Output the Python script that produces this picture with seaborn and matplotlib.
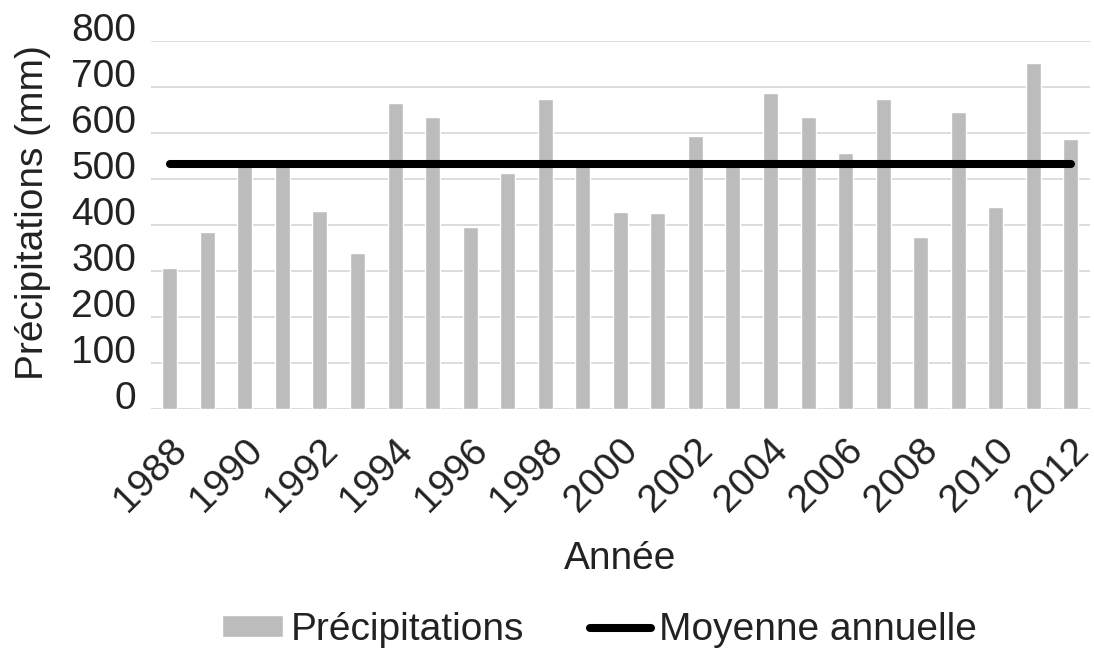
import matplotlib
matplotlib.use('Agg')
import matplotlib.pyplot as plt
import matplotlib.transforms as mtransforms
import seaborn as sns
import pandas as pd

# ---- data ----
years = [1988, 1989, 1990, 1991, 1992, 1993, 1994, 1995, 1996, 1997, 1998, 1999,
         2000, 2001, 2002, 2003, 2004, 2005, 2006, 2007, 2008, 2009, 2010, 2011, 2012]
precip = [307, 384, 530, 530, 431, 339, 666, 634, 395, 514, 674, 530,
          428, 426, 594, 530, 686, 634, 557, 674, 374, 646, 439, 753, 588]
mean_annual = 533
yticks = [0, 100, 200, 300, 400, 500, 600, 700, 800]
labeled_years = years[::2]
legend_order = ['Précipitations', 'Moyenne annuelle']

# ---- style ----
sns.set_theme(style='white')
plt.rcParams['font.family'] = ['Liberation Sans', 'DejaVu Sans']
TXT = '#222222'
plt.rcParams['text.color'] = TXT
plt.rcParams['axes.labelcolor'] = TXT
plt.rcParams['xtick.color'] = TXT
plt.rcParams['ytick.color'] = TXT
FS = 28

fig = plt.figure(figsize=(10.94, 6.52), dpi=100)
ax = fig.add_axes([0.138, 0.3727, 0.858, 0.5644])

df = pd.DataFrame({'Année': [str(y) for y in years], 'Précipitations': precip})
sns.barplot(data=df, x='Année', y='Précipitations', color='#bcbcbc', saturation=1,
            width=0.4, ax=ax, label='Précipitations', zorder=2)

line_df = pd.DataFrame({'pos': list(range(len(years))),
                        'moy': [mean_annual] * len(years)})
sns.lineplot(data=line_df, x='pos', y='moy', ax=ax, color='black', lw=5.8,
             solid_capstyle='round', label='Moyenne annuelle', zorder=3)

ax.set_xlim(-0.5, len(years) - 0.5)
ax.set_ylim(0, 800)
ax.set_yticks(yticks)
ax.set_yticklabels([str(v) for v in yticks], fontsize=FS, va='baseline')

ax.yaxis.grid(True, color='#d9d9d9', lw=1.3)
ax.xaxis.grid(False)
ax.set_axisbelow(True)
for s in ax.spines.values():
    s.set_visible(False)

ax.set_xticks([years.index(y) for y in labeled_years])
ax.set_xticklabels([str(y) for y in labeled_years], rotation=45, ha='right',
                   va='baseline', rotation_mode='anchor', fontsize=FS)
ax.tick_params(axis='x', length=0, pad=31)
ax.tick_params(axis='y', length=0, pad=10.8)
offset = mtransforms.ScaledTranslation(0.19, 0, fig.dpi_scale_trans)
for lab in ax.get_xticklabels():
    lab.set_transform(lab.get_transform() + offset)

ax.set_xlabel('Année', fontsize=FS)
ax.xaxis.set_label_coords(0.5, -0.36)
ax.set_ylabel('Précipitations (mm)', fontsize=FS)
ax.yaxis.set_label_coords(-0.106, 0.534)

handles, labels = ax.get_legend_handles_labels()
if ax.get_legend() is not None:
    ax.get_legend().remove()
hmap = dict(zip(labels, handles))
fig.legend([hmap[l] for l in legend_order], legend_order, loc='center',
           bbox_to_anchor=(0.548, 0.034), ncol=2,
           frameon=False, fontsize=FS, handlelength=1.57, handleheight=0.46,
           handletextpad=0.2, columnspacing=1.7, borderpad=0, borderaxespad=0)

fig.savefig('out.png', dpi=100)
